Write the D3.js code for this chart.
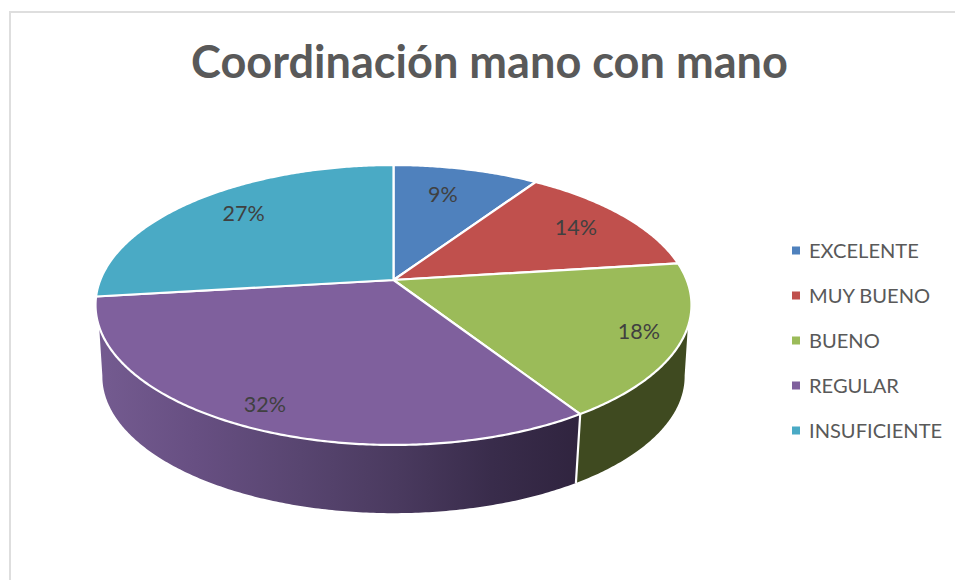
<!DOCTYPE html>
<html><head><meta charset="utf-8">
<script src="https://cdn.jsdelivr.net/npm/d3@7"></script>
<style>html,body{margin:0;padding:0;background:#fff}svg{display:block}</style>
</head><body><svg id="c" width="955" height="580"></svg>
<script>
const categories = ["EXCELENTE","MUY BUENO","BUENO","REGULAR","INSUFICIENTE"];
const values = [9.4,13.6,17.9,32.2,26.9];
const colors = ["#4f81bd","#c0504d","#9bbb59","#7f609d","#4aaac5"];
const wallColors = ["#27405e","#602826","#3f4a20","url(#purpleWall)","#255563"];
const labelNudge = [[-7,0],[2,-1],[5,0],[0,-2],[4,-3]];
const titleText = "Coordinación mano con mano";

const svg = d3.select("#c");
const FONT = "Lato, 'Open Sans', sans-serif";

// chart frame
svg.append("path").attr("d","M10,581V12H956").attr("fill","none").attr("stroke","#dedede").attr("stroke-width",2);

// perspective projection of a tilted disc
const cx = 393.5, cy = 280, R = 293.2, B = 135.5, K = 0.1786;
const botScale = 0.977, botCy = 352;
function proj(theta, r=1){
  const X = r*Math.sin(theta), Y = r*Math.cos(theta), w = 1 + K*Y;
  return [R*X/w, -B*Y/w];
}
const topPt = (t,r=1)=>{const p=proj(t,r);return [cx+p[0],cy+p[1]];};
const botPt = t=>{const p=proj(t);return [cx+botScale*p[0],botCy+botScale*p[1]];};
const samples = (a,b)=>{const n=Math.max(2,Math.ceil(Math.abs(b-a)/0.01));return d3.range(n+1).map(i=>a+(b-a)*i/n);};
const line = d3.line();

const pie = d3.pie().sort(null).value(d=>d)(values);

// gradient for the front wall
const grad = svg.append("defs").append("linearGradient").attr("id","purpleWall")
  .attr("gradientUnits","userSpaceOnUse").attr("x1",100).attr("x2",578).attr("y1",0).attr("y2",0);
[[0,"#745b90"],[0.2,"#674f82"],[0.42,"#584570"],[0.62,"#4a3a5f"],[0.82,"#392c4b"],[1,"#30243f"]]
  .forEach(s=>grad.append("stop").attr("offset",s[0]).attr("stop-color",s[1]));

// visible wall: from the rim down to the silhouette
const rad = Math.PI/180;
const topRight = 109*rad, topLeft = 251*rad, botRight = 100*rad, botLeft = 260*rad;
const walls = svg.append("g");
pie.forEach((d,i)=>{
  const a0 = Math.max(d.startAngle, topRight), a1 = Math.min(d.endAngle, topLeft);
  if (a1 <= a0) return;
  const b0 = Math.max(d.startAngle, botRight), b1 = Math.min(d.endAngle, botLeft);
  const pts = samples(a0,a1).map(t=>topPt(t)).concat(samples(b1,b0).map(botPt));
  walls.append("path").attr("d",line(pts)+"Z").attr("fill",wallColors[i]);
});
// white separators on the wall at slice boundaries
pie.forEach(d=>{
  const t = d.endAngle;
  if (t > topRight && t < topLeft)
    walls.append("path").attr("d",line([topPt(t),botPt(t)])).attr("stroke","#fff").attr("stroke-width",2.2);
});

// top faces
const faces = svg.append("g");
pie.forEach((d,i)=>{
  const pts = [[cx,cy]].concat(samples(d.startAngle,d.endAngle).map(t=>topPt(t)));
  faces.append("path").attr("d",line(pts)+"Z").attr("fill",colors[i])
    .attr("stroke","#fff").attr("stroke-width",2.2).attr("stroke-linejoin","round");
});

// data labels
const total = d3.sum(values);
const labelPos = d=>{const m=(d.startAngle+d.endAngle)/2;return topPt(m,0.815-0.075*Math.cos(m));};
svg.append("g").selectAll("text").data(pie).join("text")
  .attr("x",(d,i)=>labelPos(d)[0]+labelNudge[i][0])
  .attr("y",(d,i)=>labelPos(d)[1]+labelNudge[i][1])
  .attr("dy","0.35em").attr("text-anchor","middle")
  .attr("font-family",FONT).attr("font-size",21.5).attr("fill","#404040")
  .text(d=>d3.format(".0%")(d.value/total));

// title
svg.append("text").attr("x",489.5).attr("y",78).attr("text-anchor","middle")
  .attr("font-family",FONT).attr("font-weight",700).attr("font-size",45.1).attr("fill","#595959")
  .text(titleText);

// legend
const ly = d3.scalePoint().domain(categories).range([250.5,430.5]);
const lg = svg.append("g").selectAll("g").data(categories).join("g")
  .attr("transform",d=>`translate(0,${ly(d)})`);
lg.append("rect").attr("x",792).attr("y",-4).attr("width",8).attr("height",8)
  .attr("fill",(d,i)=>colors[i]);
lg.append("text").attr("x",809).attr("dy","0.36em")
  .attr("font-family",FONT).attr("font-size",20.1).attr("fill","#595959").text(d=>d);
</script></body></html>
